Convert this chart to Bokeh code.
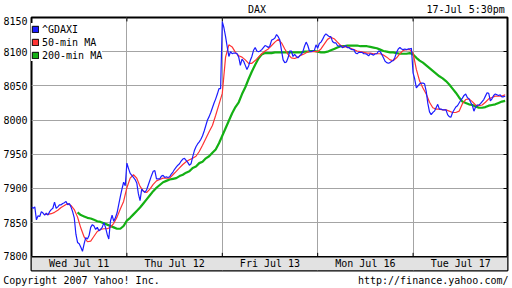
from bokeh.plotting import figure
from bokeh.models import (Range1d, FixedTicker, LinearAxis, Legend, LegendItem,
                          BoxAnnotation, Span)
from bokeh.embed import file_html
from bokeh.resources import INLINE
from bokeh.core.properties import value

NAN = float("nan")
FONT = "DejaVu Sans Mono"

title_text = "DAX"
stamp_text = "17-Jul 5:30pm"
copyright_text = "Copyright 2007 Yahoo! Inc."
url_text = "http://finance.yahoo.com/"

day_labels = ["Wed Jul 11", "Thu Jul 12", "Fri Jul 13", "Mon Jul 16", "Tue Jul 17"]
y_ticks = [7800, 7850, 7900, 7950, 8000, 8050, 8100, 8150]
series_names = ["^GDAXI", "50-min MA", "200-min MA"]

# index samples per trading day
PRICE_STEPS = 58
MA_STEPS = 29

gdaxi_wed = [7873, 7871, 7873, 7854, 7860, 7859, 7866, 7864, 7861, 7864,
             7861, 7866, 7869, 7871, 7880, 7871, 7873, 7876, 7876, 7878,
             7879, 7881, 7876, 7878, 7873, 7866, 7857, 7833, 7821, 7819,
             7814, 7808, 7819, 7828, 7826, 7831, 7843, 7847, 7845, 7840,
             7843, 7838, 7840, 7843, 7850, 7843, 7833, 7826, 7852, 7861,
             7852, 7857, 7864, 7876, 7888, 7899, 7909, 7904]
gdaxi_thu = [7937, 7929, 7922, 7919, 7916, 7913, 7908, 7892, 7882, 7899,
             7896, 7894, 7898, 7905, 7912, 7919, 7925, 7926, 7914, 7914,
             7914, 7918, 7919, 7916, 7917, 7916, 7917, 7921, 7924, 7928,
             7931, 7934, 7936, 7940, 7943, 7944, 7941, 7938, 7934, 7936,
             7946, 7955, 7961, 7965, 7968, 7972, 7977, 7984, 7992, 8000,
             8005, 8011, 8018, 8025, 8031, 8038, 8046, 8046]
gdaxi_fri = [8144, 8135, 8122, 8107, 8093, 8100, 8097, 8098, 8098, 8097,
             8092, 8080, 8089, 8086, 8080, 8074, 8079, 8087, 8093, 8102,
             8106, 8101, 8100, 8101, 8103, 8106, 8109, 8108, 8106, 8109,
             8117, 8118, 8120, 8125, 8122, 8117, 8102, 8088, 8084, 8085,
             8091, 8101, 8101, 8093, 8096, 8093, 8091, 8094, 8096, 8100,
             8108, 8114, 8109, 8101, 8100, 8101, 8102, 8110]
gdaxi_mon = [8105, 8112, 8114, 8118, 8123, 8126, 8124, 8122, 8122, 8115,
             8113, 8113, 8109, 8108, 8109, 8106, 8107, 8109, 8106, 8106,
             8104, 8103, 8103, 8098, 8097, 8099, 8099, 8099, 8097, 8097,
             8096, 8094, 8097, 8096, 8095, 8097, 8097, 8101, 8100, 8096,
             8091, 8086, 8084, 8083, 8084, 8086, 8087, 8092, 8099, 8104,
             8106, 8104, 8103, 8104, 8103, 8104, 8104, 8105]
gdaxi_tue = [8069, 8060, 8047, 8050, 8053, 8054, 8054, 8053, 8042, 8024,
             8012, 8008, 8011, 8013, 8018, 8023, 8016, 8016, 8015, 8015,
             8015, 8008, 8005, 8004, 8011, 8015, 8019, 8021, 8025, 8029,
             8032, 8036, 8038, 8033, 8031, 8026, 8022, 8013, 8019, 8022,
             8022, 8024, 8027, 8030, 8035, 8040, 8039, 8028, 8031, 8036,
             8038, 8037, 8036, 8037, 8034, 8034, 8035]

ma50_wed = [NAN, NAN, NAN, NAN, 7862, 7862, 7863, 7865, 7868, 7872,
            7875, 7878, 7875, 7869, 7858, 7842, 7829, 7822, 7823, 7830,
            7837, 7840, 7841, 7841, 7843, 7849, 7858, 7870, 7881]
ma50_thu = [7901, 7915, 7920, 7915, 7903, 7896, 7894, 7899, 7906, 7911,
            7913, 7915, 7915, 7915, 7920, 7925, 7930, 7935, 7939, 7942,
            7944, 7947, 7954, 7963, 7973, 7983, 7992, 8007, 8023]
ma50_fri = [8039, 8092, 8110, 8107, 8099, 8094, 8092, 8088, 8083, 8083,
            8087, 8092, 8097, 8101, 8104, 8109, 8114, 8118, 8113, 8104,
            8096, 8091, 8090, 8092, 8095, 8097, 8100, 8100, 8100]
ma50_mon = [8100, 8104, 8111, 8118, 8121, 8119, 8114, 8109, 8107, 8107,
            8105, 8103, 8101, 8100, 8099, 8098, 8098, 8097, 8097, 8097,
            8095, 8092, 8088, 8087, 8091, 8097, 8102, 8103, 8103]
ma50_tue = [8098, 8074, 8057, 8047, 8038, 8026, 8018, 8016, 8016, 8015,
            8015, 8013, 8011, 8011, 8013, 8024, 8030, 8031, 8027, 8022,
            8021, 8022, 8026, 8031, 8033, 8035, 8035, 8035, 8037]

ma200_wed = [NAN, NAN, NAN, NAN, NAN, NAN, NAN, NAN, NAN, NAN,
             NAN, NAN, NAN, NAN, 7865, 7861, 7859, 7857, 7856, 7854,
             7852, 7851, 7849, 7847, 7845, 7843, 7841, 7841, 7845]
ma200_thu = [7853, 7857, 7862, 7867, 7872, 7878, 7884, 7890, 7896, 7901,
             7905, 7909, 7911, 7913, 7914, 7915, 7918, 7920, 7923, 7925,
             7930, 7932, 7937, 7939, 7944, 7947, 7952, 7957, 7966]
ma200_fri = [7977, 7988, 7999, 8010, 8019, 8026, 8038, 8048, 8060, 8071,
             8081, 8090, 8096, 8098, 8098, 8098, 8099, 8099, 8099, 8099,
             8099, 8099, 8099, 8099, 8099, 8100, 8100, 8101, 8101]
ma200_mon = [8100, 8099, 8099, 8100, 8102, 8104, 8106, 8108, 8108, 8109,
             8109, 8109, 8109, 8108, 8108, 8108, 8107, 8106, 8105, 8103,
             8101, 8100, 8099, 8099, 8098, 8097, 8097, 8097, 8098]
ma200_tue = [8096, 8091, 8087, 8084, 8080, 8076, 8072, 8068, 8064, 8061,
             8057, 8052, 8046, 8040, 8033, 8027, 8025, 8023, 8022, 8020,
             8018, 8018, 8019, 8021, 8022, 8023, 8025, 8027, 8028]

gdaxi_days = [gdaxi_wed, gdaxi_thu, gdaxi_fri, gdaxi_mon, gdaxi_tue]
ma50_days = [ma50_wed, ma50_thu, ma50_fri, ma50_mon, ma50_tue]
ma200_days = [ma200_wed, ma200_thu, ma200_fri, ma200_mon, ma200_tue]


def series(days, steps):
    xs, ys = [], []
    for d, vals in enumerate(days):
        for i, v in enumerate(vals):
            xs.append(d + i / steps)
            ys.append(v)
    return xs, ys


BLUE = "#1c1cff"
RED = "#ff3333"
GREEN = "#14b014"
GRID = "#a4a4a4"
BAND = "#e2e2e2"

W, H = 512, 288
FL, FR, FT, FB = 28, 507, 15, 273          # frame edges in pixels
PLOT_BOTTOM = 259                          # pixel row of the lowest price tick
n_days = len(day_labels)
x_end = n_days - 0.01
y_lo, y_hi = y_ticks[0], y_ticks[-1]
px_per_pt = (PLOT_BOTTOM - FT) / (y_hi - y_lo)
band_lo = y_lo - (FB - PLOT_BOTTOM) / px_per_pt
px_per_day = (FR - FL) / x_end


def px_to_x(px):
    return (px - FL) / px_per_day


p = figure(width=W, height=H, output_backend="svg", toolbar_location=None,
           x_range=Range1d(0, x_end), y_range=Range1d(band_lo, y_hi),
           x_axis_location=None, y_axis_location="left",
           min_border_left=FL, min_border_right=W - FR, min_border_top=FT,
           min_border_bottom=H - FB,
           background_fill_color="white", border_fill_color="white")

p.outline_line_color = "black"
p.outline_line_width = 2

# left axis labels; the end labels are nudged inside the frame like the original
label_pos = list(y_ticks)
label_pos[0] = y_lo + 0.5 / px_per_pt
label_pos[-1] = y_hi - 3.5 / px_per_pt
ya = p.yaxis[0]
ya.ticker = FixedTicker(ticks=label_pos)
ya.major_label_overrides = {pos: str(t) for pos, t in zip(label_pos, y_ticks)}
ya.major_label_text_font = FONT
ya.major_label_text_font_size = "10px"
ya.major_label_text_color = "black"
ya.major_tick_out = 0
ya.major_tick_in = 0
ya.minor_tick_line_color = None
ya.axis_line_color = None
ya.major_label_standoff = 4

# grids
p.ygrid.ticker = FixedTicker(ticks=y_ticks)
p.xgrid.ticker = FixedTicker(ticks=list(range(1, n_days)))
for g in (p.xgrid, p.ygrid):
    g.grid_line_color = GRID
    g.grid_line_width = 1

# right ticks pointing in
ra = LinearAxis(ticker=FixedTicker(ticks=y_ticks[1:-1]),
                major_label_overrides={t: "" for t in y_ticks},
                major_tick_in=4, major_tick_out=0, major_label_standoff=0,
                axis_line_color=None, minor_tick_line_color=None,
                major_tick_line_color="black")
p.add_layout(ra, "right")

# header texts (title and timestamp) on a label-only top axis
x_title = px_to_x(255)
x_stamp = px_to_x(504 - len(stamp_text) * 6.02 / 2)
ta = LinearAxis(ticker=FixedTicker(ticks=[x_title, x_stamp]),
                major_label_overrides={x_title: title_text, x_stamp: stamp_text},
                major_tick_in=0, major_tick_out=0, major_label_standoff=3,
                axis_line_color=None, minor_tick_line_color=None,
                major_tick_line_color=None,
                major_label_text_font=FONT, major_label_text_font_size="10px",
                major_label_text_color="black")
p.add_layout(ta, "above")

# footer texts on a label-only bottom axis
x_copy = px_to_x(len(copyright_text) * 6.02 / 2)
x_url = px_to_x(507.5 - len(url_text) * 6.02 / 2)
ba = LinearAxis(ticker=FixedTicker(ticks=[x_copy, x_url]),
                major_label_overrides={x_copy: copyright_text, x_url: url_text},
                major_tick_in=0, major_tick_out=0, major_label_standoff=4,
                axis_line_color=None, minor_tick_line_color=None,
                major_tick_line_color=None,
                major_label_text_font=FONT, major_label_text_font_size="10px",
                major_label_text_color="black")
p.add_layout(ba, "below")

# date band
band = BoxAnnotation(top=y_lo, fill_color=BAND, fill_alpha=1.0, line_color=None,
                     level="underlay")
p.add_layout(band)
p.add_layout(Span(location=y_lo, dimension="width", line_color="black", line_width=1.5))

bounds = list(range(1, n_days))
tick_len = 4 / px_per_pt
p.segment(x0=bounds, y0=[y_lo] * len(bounds), x1=bounds,
          y1=[y_lo + tick_len] * len(bounds), line_color="black", line_width=1)
p.segment(x0=bounds, y0=[y_hi] * len(bounds), x1=bounds,
          y1=[y_hi - tick_len] * len(bounds), line_color="black", line_width=1)

p.text(x=[d + 0.5 for d in range(n_days)], y=[(y_lo + band_lo) / 2] * n_days,
       text=day_labels, text_font=value(FONT), text_font_size="10px",
       text_align="center", text_baseline="middle", text_color="black")

# data lines
gx, gy = series(ma200_days, MA_STEPS)
p.line(gx, gy, line_color=GREEN, line_width=2.2)
rx, ry = series(ma50_days, MA_STEPS)
p.line(rx, ry, line_color=RED, line_width=1.2)
bx, by = series(gdaxi_days, PRICE_STEPS)
p.line(bx, by, line_color=BLUE, line_width=1.2)

# legend with square swatches
items = []
for name, col in zip(series_names, [BLUE, RED, GREEN]):
    r = p.quad(left=[NAN], right=[NAN], top=[NAN], bottom=[NAN], fill_color=col,
               line_color="black", line_width=1)
    items.append(LegendItem(label=name, renderers=[r]))
LEG_PAD, LEG_ROW, LEG_SP = 3, 12, 1
leg_height = 2 * LEG_PAD + 3 * LEG_ROW + 2 * LEG_SP
leg_top = 29 - LEG_ROW / 2 - LEG_PAD
leg = Legend(items=items, location=(0, FB - (leg_top + leg_height)),
             background_fill_color="white",
             background_fill_alpha=1.0, border_line_color=None,
             label_text_font=FONT, label_text_font_size="10px",
             label_text_color="black",
             glyph_width=8, glyph_height=8, label_height=LEG_ROW, label_standoff=3,
             spacing=LEG_SP, padding=LEG_PAD, margin=0)
p.add_layout(leg)

open("out.html", "w").write(file_html(p, INLINE))
